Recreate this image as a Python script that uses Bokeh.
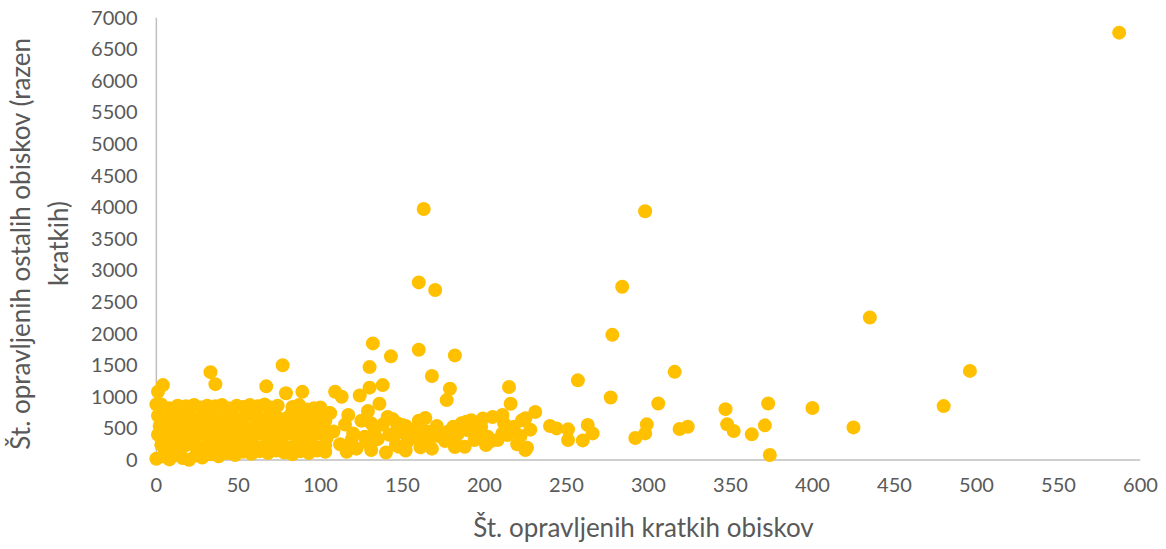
from bokeh.plotting import figure
from bokeh.models import Range1d, FixedTicker
from bokeh.embed import file_html
from bokeh.resources import INLINE

# Number of short visits per provider (x) and number of other visits (y)
short_visits = [
    # outliers and sparse points
    587, 163, 298, 160, 170, 284, 435, 278, 132, 160, 143, 182, 77, 130, 33,
    168, 316, 496, 257, 36, 4, 67, 138, 179, 215, 1, 79, 89, 109, 113, 124,
    130, 277, 306, 347, 373, 400, 480, 177, 216, 136, 96, 105, 129, 117, 141,
    164, 231, 225, 211, 205, 199, 192, 186, 223, 218, 240, 244, 251, 263, 266,
    251, 260, 292, 299, 298, 319, 324, 348, 352, 363, 371, 374, 425, 226, 182,
    161, 146, 131, 116, 201, 208, 194, 214, 222, 195, 202, 211, 217, 189, 196,
    171, 181, 182, 161, 147, 152, 153, 150, 158, 155, 166, 148, 188, 225, 147,
    131, 106, 119, 127,
    # mid cluster 100-235
    108, 112, 115, 120, 122, 125, 128, 133, 135, 138, 140, 142, 144, 148, 152,
    156, 160, 165, 168, 172, 176, 178, 184, 190, 198, 204, 212, 220, 228,
    # dense cluster 0-105
    0, 3, 8, 13, 18, 23, 27, 31, 36, 40, 44, 49, 53, 57, 62, 66, 70, 74, 83,
    87, 92, 100,
    1, 5, 10, 15, 20, 25, 29, 34, 38, 43, 47, 52, 56, 60, 65, 69, 73, 78, 82,
    86, 91, 95, 99, 103,
    2, 7, 11, 16, 21, 26, 30, 35, 39, 44, 48, 53, 57, 61, 66, 70, 75, 79, 84,
    88, 93, 97, 102,
    1, 6, 10, 15, 19, 24, 28, 33, 37, 42, 46, 51, 55, 59, 64, 68, 72, 77, 81,
    86, 90, 95, 99, 104,
    3, 8, 12, 17, 22, 27, 31, 36, 40, 45, 49, 54, 58, 63, 67, 71, 76, 80, 85,
    89, 94, 98, 103,
    0, 4, 8, 12, 16, 20, 24, 28, 33, 38, 43, 48, 53, 58, 63, 68, 73, 78, 83,
    88, 93, 98, 103,
]
other_visits = [
    6760, 3970, 3935, 2810, 2690, 2740, 2255, 1980, 1845, 1745, 1640, 1655,
    1500, 1470, 1390, 1330, 1395, 1410, 1260, 1200, 1185, 1165, 1185, 1127,
    1155, 1080, 1055, 1078, 1080, 1000, 1020, 1145, 990, 895, 805, 895, 822,
    853, 948, 890, 890, 817, 740, 775, 711, 680, 665, 760, 659, 711, 680, 655,
    630, 580, 630, 527, 537, 500, 485, 553, 421, 316, 310, 348, 564, 421, 490,
    527, 564, 458, 406, 548, 79, 516, 195, 205, 200, 237, 158, 131, 237, 316,
    316, 395, 380, 421, 369, 421, 500, 605, 569, 540, 527, 316, 348, 527, 540,
    290, 553, 500, 343, 290, 210, 210, 158, 580, 580, 742, 316, 369,
    450, 250, 560, 420, 180, 620, 280, 470, 330, 560, 120, 400, 650, 440, 150,
    420, 620, 450, 180, 380, 300, 450, 420, 470, 520, 300, 580, 250, 480,
    880, 880, 820, 860, 850, 870, 830, 860, 850, 870, 820, 860, 840, 870, 850,
    880, 830, 860, 840, 870, 800, 830,
    700, 650, 720, 680, 700, 650, 720, 690, 660, 710, 680, 650, 720, 690, 660,
    710, 680, 650, 720, 690, 640, 700, 660, 620,
    540, 500, 560, 520, 545, 500, 560, 520, 500, 550, 520, 560, 500, 540, 520,
    560, 500, 540, 520, 560, 500, 540, 480,
    400, 380, 420, 360, 400, 380, 420, 360, 400, 380, 410, 350, 400, 380, 420,
    360, 400, 380, 420, 350, 400, 380, 420, 360,
    240, 200, 260, 220, 250, 200, 240, 220, 260, 200, 240, 220, 250, 200, 240,
    220, 260, 200, 240, 220, 250, 200, 240,
    20, 60, 10, 80, 30, 5, 70, 40, 90, 60, 110, 80, 130, 100, 140, 110, 150,
    120, 90, 140, 110, 150, 130,
]

x_ticks = [0, 50, 100, 150, 200, 250, 300, 350, 400, 450, 500, 550, 600]
y_ticks = [0, 500, 1000, 1500, 2000, 2500, 3000, 3500, 4000, 4500, 5000,
           5500, 6000, 6500, 7000]

x_title = "Št. opravljenih kratkih obiskov"
y_title = "Št. opravljenih ostalih obiskov (razen\nkratkih)"

FONT = "Lato"
TEXT = "#595959"
AXIS = "#BFBFBF"
GOLD = "#FFC000"

p = figure(
    width=1166, height=549,
    output_backend="svg", toolbar_location=None,
    x_range=Range1d(-6, x_ticks[-1]), y_range=Range1d(-150, y_ticks[-1]),
    min_border_left=146, min_border_right=26,
    min_border_top=17, min_border_bottom=80,
)
p.outline_line_color = None
p.xgrid.grid_line_color = None
p.ygrid.grid_line_color = None
p.background_fill_color = "white"
p.border_fill_color = "white"

p.xaxis.ticker = FixedTicker(ticks=x_ticks)
p.yaxis.ticker = FixedTicker(ticks=y_ticks)

for ax in (p.xaxis, p.yaxis):
    ax.axis_line_color = None
    ax.major_tick_line_color = None
    ax.minor_tick_line_color = None
    ax.major_label_text_color = TEXT
    ax.major_label_text_font = FONT
    ax.major_label_text_font_size = "20px"
    ax.axis_label_text_color = TEXT
    ax.axis_label_text_font = FONT
    ax.axis_label_text_font_size = "26px"
    ax.axis_label_text_font_style = "normal"

p.xaxis.axis_label = x_title
p.yaxis.axis_label = y_title
p.xaxis.major_label_standoff = 2
p.yaxis.major_label_standoff = 3
p.xaxis.axis_label_standoff = 16
p.yaxis.axis_label_standoff = 14

# axis lines through the origin
p.segment(x0=[x_ticks[0], x_ticks[0]], y0=[y_ticks[0], y_ticks[0]],
          x1=[x_ticks[0], x_ticks[-1]], y1=[y_ticks[-1], y_ticks[0]],
          line_color=AXIS, line_width=1.5)

p.scatter(short_visits, other_visits, size=14, fill_color=GOLD,
          line_color=GOLD, line_width=0)

open("out.html", "w").write(file_html(p, INLINE))
